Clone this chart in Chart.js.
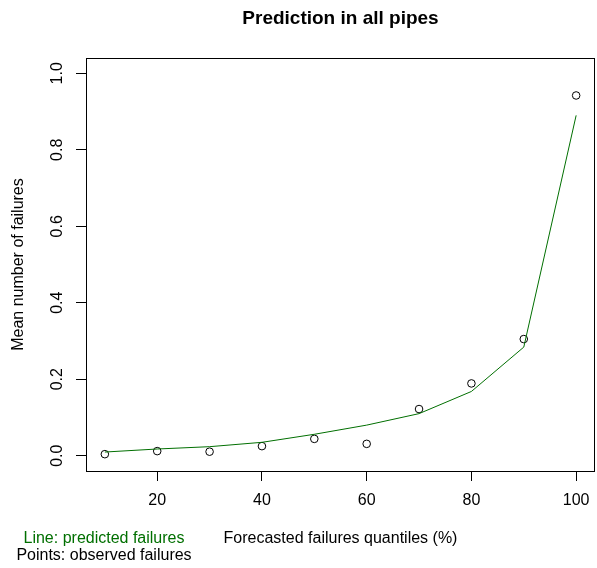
<!DOCTYPE html>
<html>
<head>
<meta charset="utf-8">
<script src="https://cdn.jsdelivr.net/npm/chart.js@4"></script>
<style>
  body { margin: 0; background: #fff; }
  #wrap { width: 597px; height: 568px; }
</style>
</head>
<body>
<div id="wrap"><canvas id="chart" width="597" height="568"></canvas></div>
<script>
// Data
const quantiles = [10, 20, 30, 40, 50, 60, 70, 80, 90, 100];
const predicted = [0.0096, 0.0175, 0.0236, 0.035, 0.056, 0.080, 0.110, 0.168, 0.284, 0.890];
const observed = [0.004, 0.012, 0.0105, 0.025, 0.044, 0.031, 0.122, 0.189, 0.305, 0.942];
const xTicks = [20, 40, 60, 80, 100];
const yTicks = [0, 0.2, 0.4, 0.6, 0.8, 1.0];

const FONT = "'Liberation Sans', Arial, Helvetica, sans-serif";
const GREEN = '#006F00';

// Box around plot + title + notes under the axis
const framePlugin = {
    id: 'frame',
    afterDraw(chart) {
        const ctx = chart.ctx;
        const a = chart.chartArea;
        ctx.save();
        ctx.strokeStyle = '#000';
        ctx.lineWidth = 1;
        ctx.strokeRect(a.left + 0.5, a.top + 0.5, a.right - a.left - 1, a.bottom - a.top);

        ctx.textAlign = 'center';
        ctx.textBaseline = 'middle';
        ctx.fillStyle = '#000';
        ctx.font = 'bold 19px ' + FONT;
        ctx.fillText('Prediction in all pipes', (a.left + a.right) / 2, 19);

        ctx.font = '16px ' + FONT;
        ctx.fillStyle = GREEN;
        ctx.fillText('Line: predicted failures', 104, 539);
        ctx.fillStyle = '#000';
        ctx.fillText('Points: observed failures', 104, 556);
        ctx.restore();
    }
};

const ctx = document.getElementById('chart');

new Chart(ctx, {
    type: 'scatter',
    data: {
        datasets: [
            {
                label: 'Predicted',
                data: quantiles.map((q, i) => ({ x: q, y: predicted[i] })),
                showLine: true,
                borderColor: GREEN,
                borderWidth: 1,
                pointRadius: 0,
                fill: false
            },
            {
                label: 'Observed',
                data: quantiles.map((q, i) => ({ x: q, y: observed[i] })),
                pointRadius: 3.8,
                pointStyle: 'circle',
                borderColor: '#000',
                borderWidth: 1,
                backgroundColor: 'rgba(0,0,0,0)'
            }
        ]
    },
    options: {
        responsive: false,
        animation: false,
        devicePixelRatio: 1,
        layout: {
            autoPadding: false,
            padding: { top: 58, right: 2, left: 0, bottom: 0 }
        },
        plugins: {
            legend: { display: false },
            tooltip: { enabled: false }
        },
        scales: {
            x: {
                type: 'linear',
                min: 6.4,
                max: 103.6,
                afterFit: s => { s.height = 97; s.paddingLeft = 0; s.paddingRight = 0; },
                afterBuildTicks: s => { s.ticks = xTicks.map(v => ({ value: v })); },
                grid: { drawOnChartArea: false, drawTicks: true, tickLength: 10, color: '#000' },
                border: { display: false },
                ticks: {
                    color: '#000',
                    padding: 10,
                    maxRotation: 0,
                    font: { family: FONT, size: 16 }
                },
                title: {
                    display: true,
                    text: 'Forecasted failures quantiles (%)',
                    color: '#000',
                    font: { family: FONT, size: 16 },
                    padding: { top: 0, bottom: 20 }
                }
            },
            y: {
                type: 'linear',
                min: -0.04,
                max: 1.04,
                afterFit: s => { s.width = 86; s.paddingTop = 0; s.paddingBottom = 0; },
                afterBuildTicks: s => { s.ticks = yTicks.map(v => ({ value: v })); },
                grid: { drawOnChartArea: false, drawTicks: true, tickLength: 10, color: '#000' },
                border: { display: false },
                ticks: {
                    color: '#000',
                    padding: 7,
                    minRotation: 90,
                    maxRotation: 90,
                    crossAlign: 'center',
                    font: { family: FONT, size: 16 },
                    callback: v => v.toFixed(1)
                },
                title: {
                    display: true,
                    text: 'Mean number of failures',
                    color: '#000',
                    font: { family: FONT, size: 16 },
                    padding: { top: 9, bottom: 0 }
                }
            }
        }
    },
    plugins: [framePlugin]
});
</script>
</body>
</html>
